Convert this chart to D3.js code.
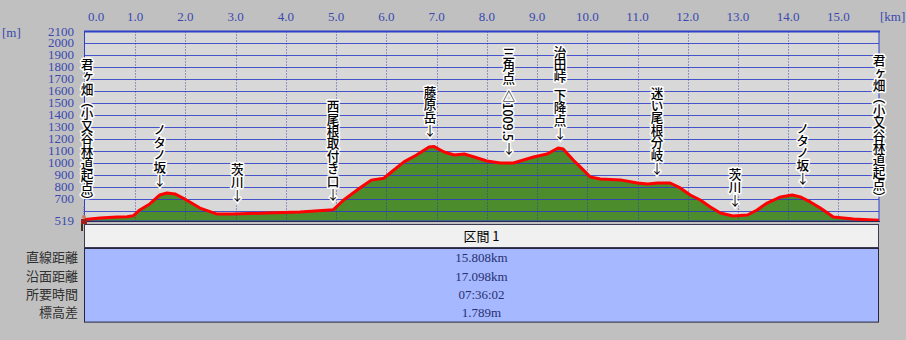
<!DOCTYPE html>
<html>
<head>
<meta charset="utf-8">
<script src="https://cdn.jsdelivr.net/npm/d3@7"></script>
<style>
    body { margin: 0; background: #c0c0c0; }
    svg { display: block; }
</style>
</head>
<body>
<svg id="chart" width="906" height="340"></svg>
<script>
// distance along the route [km] and altitude [m]
var dist = [0, 0.3, 0.64, 0.84, 0.96, 1.09, 1.29, 1.49, 1.63, 1.79, 1.95, 2.29, 2.63, 2.95, 3.62, 4.28, 4.94,
    5.15, 5.5, 5.7, 5.95, 6.1, 6.35, 6.6, 6.85, 6.95, 7.15, 7.35, 7.55, 7.75, 8.0, 8.27, 8.53, 8.73, 8.93,
    9.2, 9.42, 9.52, 9.72, 9.92, 10.06, 10.26, 10.66, 11.0, 11.2, 11.4, 11.65, 11.85, 12.05, 12.25, 12.45,
    12.65, 12.9, 13.19, 13.38, 13.58, 13.85, 14.08, 14.24, 14.44, 14.64, 14.9, 15.3, 15.7, 15.808];
var alt = [532, 544, 552, 555, 562, 611, 661, 736, 753, 745, 711, 627, 577, 577, 586, 594, 612,
    694, 802, 860, 876, 928, 1012, 1070, 1136, 1140, 1095, 1070, 1078, 1053, 1020, 1003, 1003, 1028, 1053,
    1078, 1128, 1120, 1028, 945, 886, 870, 862, 836, 828, 836, 836, 795, 736, 694, 636,
    586, 561, 569, 611, 669, 720, 736, 720, 678, 628, 553, 536, 527, 525];

var kmTicks = [0, 1, 2, 3, 4, 5, 6, 7, 8, 9, 10, 11, 12, 13, 14, 15];
var altTicks = [2100, 2000, 1900, 1800, 1700, 1600, 1500, 1400, 1300, 1200, 1100, 1000, 900, 800, 700, 519];
var altGrid = [2000, 1900, 1800, 1700, 1600, 1500, 1400, 1300, 1200, 1100, 1000, 900, 800, 700, 600];

// waypoints: position [km], altitude where the label (or its arrow) ends, name
var wpDist = [0, 1.49, 3.03, 4.94, 6.87, 8.44, 9.46, 11.39, 12.94, 14.29, 15.808];
var wpAlt = [640, 803, 678, 686, 1220, 1070, 1195, 903, 636, 819, 669];
var wpName = ["君ヶ畑（小又谷林道起点）", "ノタノ坂", "茨川", "西尾根取付き口", "藤原岳",
    "三角点\u2002△1009.5", "治田峠\u2002下降点", "迷い尾根分岐", "茨川", "ノタノ坂", "君ヶ畑（小又谷林道起点）"];
var wpArrow = [false, true, true, true, true, true, true, true, true, true, false];

var sectionName = "区間 1";
var rowLabels = ["直線距離", "沿面距離", "所要時間", "標高差"];
var rowValues = ["15.808km", "17.098km", "07:36:02", "1.789m"];

var svg = d3.select("#chart");
var serif = "'Liberation Serif', 'DejaVu Serif', serif";
var jp = "'Noto Sans CJK JP', sans-serif";

var x = d3.scaleLinear().domain([0, 15.808]).range([85, 879]);
var y = d3.scaleLinear().domain([519, 2100]).range([221, 31.5]);

// plot background
svg.append("rect")
    .attr("x", x(0) - 1).attr("y", y(2100))
    .attr("width", x(15.808) - x(0) + 1).attr("height", y(519) - y(2100))
    .attr("fill", "#d8d8d8");

var pts = dist.map(function (d, i) { return [d, alt[i]]; });

svg.append("path")
    .datum(pts)
    .attr("fill", "#4c8c2c")
    .attr("d", d3.area()
        .x(function (d) { return x(d[0]); })
        .y0(y(519))
        .y1(function (d) { return y(d[1]); }));

// grid
svg.append("g").selectAll("line")
    .data(altGrid)
    .enter().append("line")
    .attr("x1", x(0)).attr("x2", x(15.808))
    .attr("y1", function (d) { return Math.round(y(d)) + 0.5; })
    .attr("y2", function (d) { return Math.round(y(d)) + 0.5; })
    .attr("stroke", "#2d3cc8")
    .attr("stroke-opacity", 0.85);

svg.append("g").selectAll("line")
    .data(kmTicks.slice(1))
    .enter().append("line")
    .attr("x1", function (d) { return Math.round(x(d)) + 0.5; })
    .attr("x2", function (d) { return Math.round(x(d)) + 0.5; })
    .attr("y1", y(2100)).attr("y2", y(519))
    .attr("stroke", "#2030b0")
    .attr("stroke-opacity", 0.8)
    .attr("stroke-dasharray", "1,2");

// frame
svg.append("rect")
    .attr("x", x(0) - 0.5).attr("y", y(2100))
    .attr("width", x(15.808) - x(0) + 0.5).attr("height", y(519) - y(2100))
    .attr("fill", "none")
    .attr("stroke", "#3040c8");
svg.append("line")
    .attr("x1", x(0) - 1).attr("x2", x(15.808) + 1)
    .attr("y1", y(2100)).attr("y2", y(2100))
    .attr("stroke", "#3040c8").attr("stroke-width", 2);

// profile line
svg.append("path")
    .datum(pts)
    .attr("fill", "none")
    .attr("stroke", "#ff0000")
    .attr("stroke-width", 3)
    .attr("stroke-linejoin", "round")
    .attr("d", d3.line()
        .x(function (d) { return x(d[0]); })
        .y(function (d) { return y(d[1]); }));

svg.append("line")
    .attr("x1", x(0) - 1).attr("x2", x(15.808) + 1)
    .attr("y1", y(519) + 0.5).attr("y2", y(519) + 0.5)
    .attr("stroke", "#2a2a60");

// axis labels
svg.append("g").selectAll("text")
    .data(kmTicks)
    .enter().append("text")
    .attr("x", function (d) { return d === 0 ? x(d) + 3 : x(d); })
    .attr("y", 21)
    .attr("text-anchor", function (d) { return d === 0 ? "start" : "middle"; })
    .attr("font-family", serif)
    .attr("font-size", 13)
    .attr("fill", "#3a48b0")
    .text(function (d) { return d.toFixed(1); });

svg.append("text")
    .attr("x", 880).attr("y", 21)
    .attr("font-family", serif).attr("font-size", 13)
    .attr("fill", "#3a48b0")
    .text("[km]");

svg.append("g").selectAll("text")
    .data(altTicks)
    .enter().append("text")
    .attr("x", 74)
    .attr("y", function (d) { return y(d) + 4; })
    .attr("text-anchor", "end")
    .attr("font-family", serif)
    .attr("font-size", 11.5)
    .attr("textLength", function (d) { return String(d).length * 6.5; })
    .attr("lengthAdjust", "spacingAndGlyphs")
    .attr("fill", "#3a48b0")
    .text(function (d) { return d; });

svg.append("text")
    .attr("x", 2).attr("y", 37)
    .attr("font-family", serif).attr("font-size", 13)
    .attr("fill", "#3a48b0")
    .text("[m]");

// waypoint labels, written vertically
svg.append("g").selectAll("text")
    .data(wpName)
    .enter().append("text")
    .attr("x", function (d, i) { return x(wpDist[i]) + (i === 0 ? 2 : 0); })
    .attr("y", function (d, i) { return y(wpAlt[i]) - (wpArrow[i] ? 14 : 0); })
    .attr("text-anchor", "end")
    .style("writing-mode", "vertical-rl")
    .attr("font-family", jp)
    .attr("font-size", 12.6)
    .attr("font-weight", 500)
    .attr("letter-spacing", -0.2)
    .attr("fill", "#000")
    .attr("stroke", "#fff")
    .attr("stroke-width", 3)
    .attr("stroke-linejoin", "round")
    .attr("paint-order", "stroke")
    .text(function (d) { return d; });

// arrows drawn upright below each label
svg.append("g").selectAll("text")
    .data(wpDist.filter(function (d, i) { return wpArrow[i]; }))
    .enter().append("text")
    .attr("x", function (d) { return x(d); })
    .attr("y", function (d) { return y(wpAlt[wpDist.indexOf(d)]) - 2; })
    .attr("text-anchor", "middle")
    .attr("font-family", jp)
    .attr("font-size", 13)
    .attr("fill", "#000")
    .attr("stroke", "#fff")
    .attr("stroke-width", 3)
    .attr("paint-order", "stroke")
    .text("↓");

// hiker at the start point
var hk = svg.append("g").attr("transform", "translate(" + x(0) + "," + y(519) + ")");
hk.append("line").attr("x1", -1).attr("x2", -1).attr("y1", -14).attr("y2", -5)
    .attr("stroke", "#6060a0").attr("stroke-dasharray", "1,1");
hk.append("circle").attr("cx", -1).attr("cy", -4).attr("r", 2).attr("fill", "#c08060");
hk.append("rect").attr("x", -4).attr("y", -2).attr("width", 6).attr("height", 5).attr("fill", "#a02020");
hk.append("rect").attr("x", -4).attr("y", 3).attr("width", 2).attr("height", 7).attr("fill", "#403020");
hk.append("rect").attr("x", 0).attr("y", 3).attr("width", 2).attr("height", 7).attr("fill", "#403020");

// summary table
var tLeft = 84, tRight = 879, headTop = 224, headH = 23, rowH = 18.4;

svg.append("rect")
    .attr("x", tLeft + 0.5).attr("y", headTop + 0.5)
    .attr("width", tRight - tLeft - 1).attr("height", headH)
    .attr("fill", "#f0f0f0")
    .attr("stroke", "#3a3a50");
svg.append("text")
    .attr("x", (tLeft + tRight) / 2).attr("y", headTop + headH / 2 + 5)
    .attr("text-anchor", "middle")
    .attr("font-family", jp).attr("font-size", 13)
    .attr("fill", "#000")
    .text(sectionName);

var bodyTop = headTop + headH + 1;
svg.append("rect")
    .attr("x", tLeft + 0.5).attr("y", bodyTop + 0.5)
    .attr("width", tRight - tLeft - 1).attr("height", rowH * rowLabels.length)
    .attr("fill", "#a6b8ff")
    .attr("stroke", "#262640");

svg.append("g").selectAll("text")
    .data(rowLabels)
    .enter().append("text")
    .attr("x", 78)
    .attr("y", function (d, i) { return bodyTop + rowH * i + rowH / 2 + 5; })
    .attr("text-anchor", "end")
    .attr("font-family", jp).attr("font-size", 13)
    .attr("fill", "#303030")
    .text(function (d) { return d; });

svg.append("g").selectAll("text")
    .data(rowValues)
    .enter().append("text")
    .attr("x", (tLeft + tRight) / 2)
    .attr("y", function (d, i) { return bodyTop + rowH * i + rowH / 2 + 5; })
    .attr("text-anchor", "middle")
    .attr("font-family", serif).attr("font-size", 13)
    .attr("fill", "#283070")
    .text(function (d) { return d; });
</script>
</body>
</html>
